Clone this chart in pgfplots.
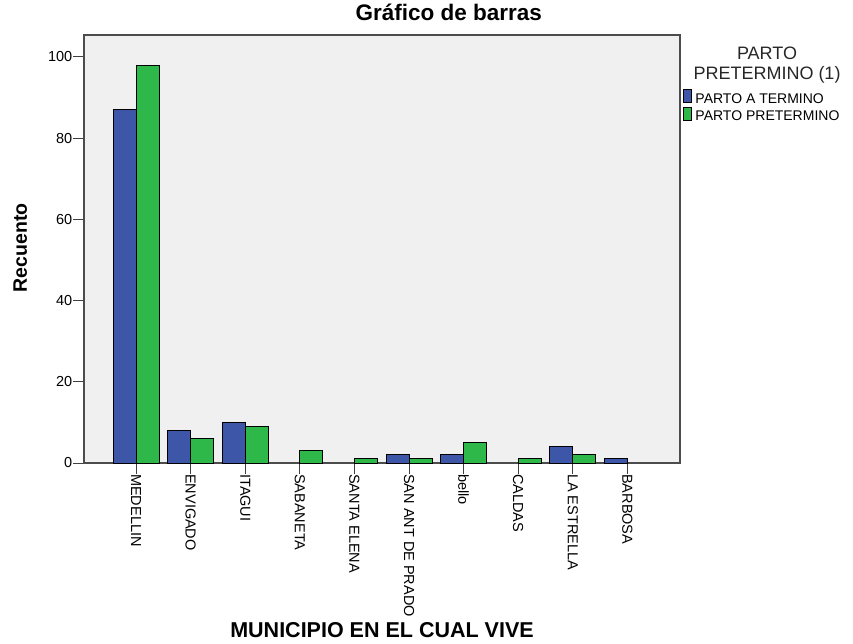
\documentclass[border=0pt]{standalone}
\usepackage{pgfplots}
\pgfplotsset{compat=1.18}
\usepackage{fontspec}
\setmainfont{Liberation Sans}
\definecolor{spblue}{RGB}{62,86,168}
\definecolor{spgreen}{RGB}{46,184,74}
\definecolor{bg}{RGB}{240,240,240}
\begin{document}
\begin{tikzpicture}[x=1pt,y=1pt]
\path[use as bounding box] (0,0) rectangle (853,643);
\begin{axis}[
  at={(84pt,180pt)}, anchor=south west,
  scale only axis, width=596pt, height=428pt,
  ybar=0pt, bar width=23pt,
  xmin=-0.955, xmax=9.965, ymin=0, ymax=105.4,
  xtick={0,...,9},
  xticklabels={MEDELLIN,ENVIGADO,ITAGUI,SABANETA,SANTA ELENA,SAN ANT DE PRADO,bello,CALDAS,LA ESTRELLA,BARBOSA},
  x tick label style={rotate=-90, anchor=west, font=\fontsize{14.5}{16}\selectfont, inner sep=0.5pt},
  ytick={0,20,40,60,80,100},
  y tick label style={font=\fontsize{14.5}{16}\selectfont, inner sep=1pt},
  /pgf/number format/assume math mode=true,
  tick align=outside, major tick length=10.5pt,
  xtick pos=left, ytick pos=left,
  tick style={black!75, line width=1pt},
  axis background/.style={fill=bg},
  axis line style={draw=black!70, line width=1.2pt},
  title={\bfseries Gráfico de barras},
  title style={font=\fontsize{22.5}{24}\selectfont, at={(axis description cs:0.612,1.021)}, anchor=base},
  ylabel={\bfseries Recuento},
  ylabel style={font=\fontsize{19.5}{21}\selectfont, at={(axis description cs:-0.107,0.503)}, anchor=center},
  xlabel={\bfseries MUNICIPIO EN EL CUAL VIVE},
  xlabel style={font=\fontsize{21.5}{23}\selectfont, at={(axis description cs:0.5,-0.39)}, anchor=center},
  legend style={at={(rel axis cs:1.005,0.874)}, anchor=north west, draw=none, fill=none,
    font=\fontsize{14}{14}\selectfont, row sep=0pt, column sep=3pt, inner sep=0pt,
    nodes={inner sep=0.5pt, text height=10pt, text depth=3pt}},
  legend cell align=left,
  legend image code/.code={\draw[#1, draw=black, line width=0.8pt] (0pt,-3pt) rectangle (8pt,10pt);},
]
\addplot[fill=spblue, draw=black, line width=0.9pt] coordinates {
  (0,87) (1,8) (2,10) (5,2) (6,2) (8,4) (9,1)};
\addplot[fill=spgreen, draw=black, line width=0.9pt] coordinates {
  (0,98) (1,6) (2,9) (3,3) (4,1) (5,1) (6,5) (7,1) (8,2)};
\legend{PARTO A TERMINO, PARTO PRETERMINO}
\end{axis}
\node[align=center, font=\fontsize{18}{20}\selectfont, text=black!85] at (767,578) {PARTO\\PRETERMINO (1)};
\end{tikzpicture}
\end{document}
